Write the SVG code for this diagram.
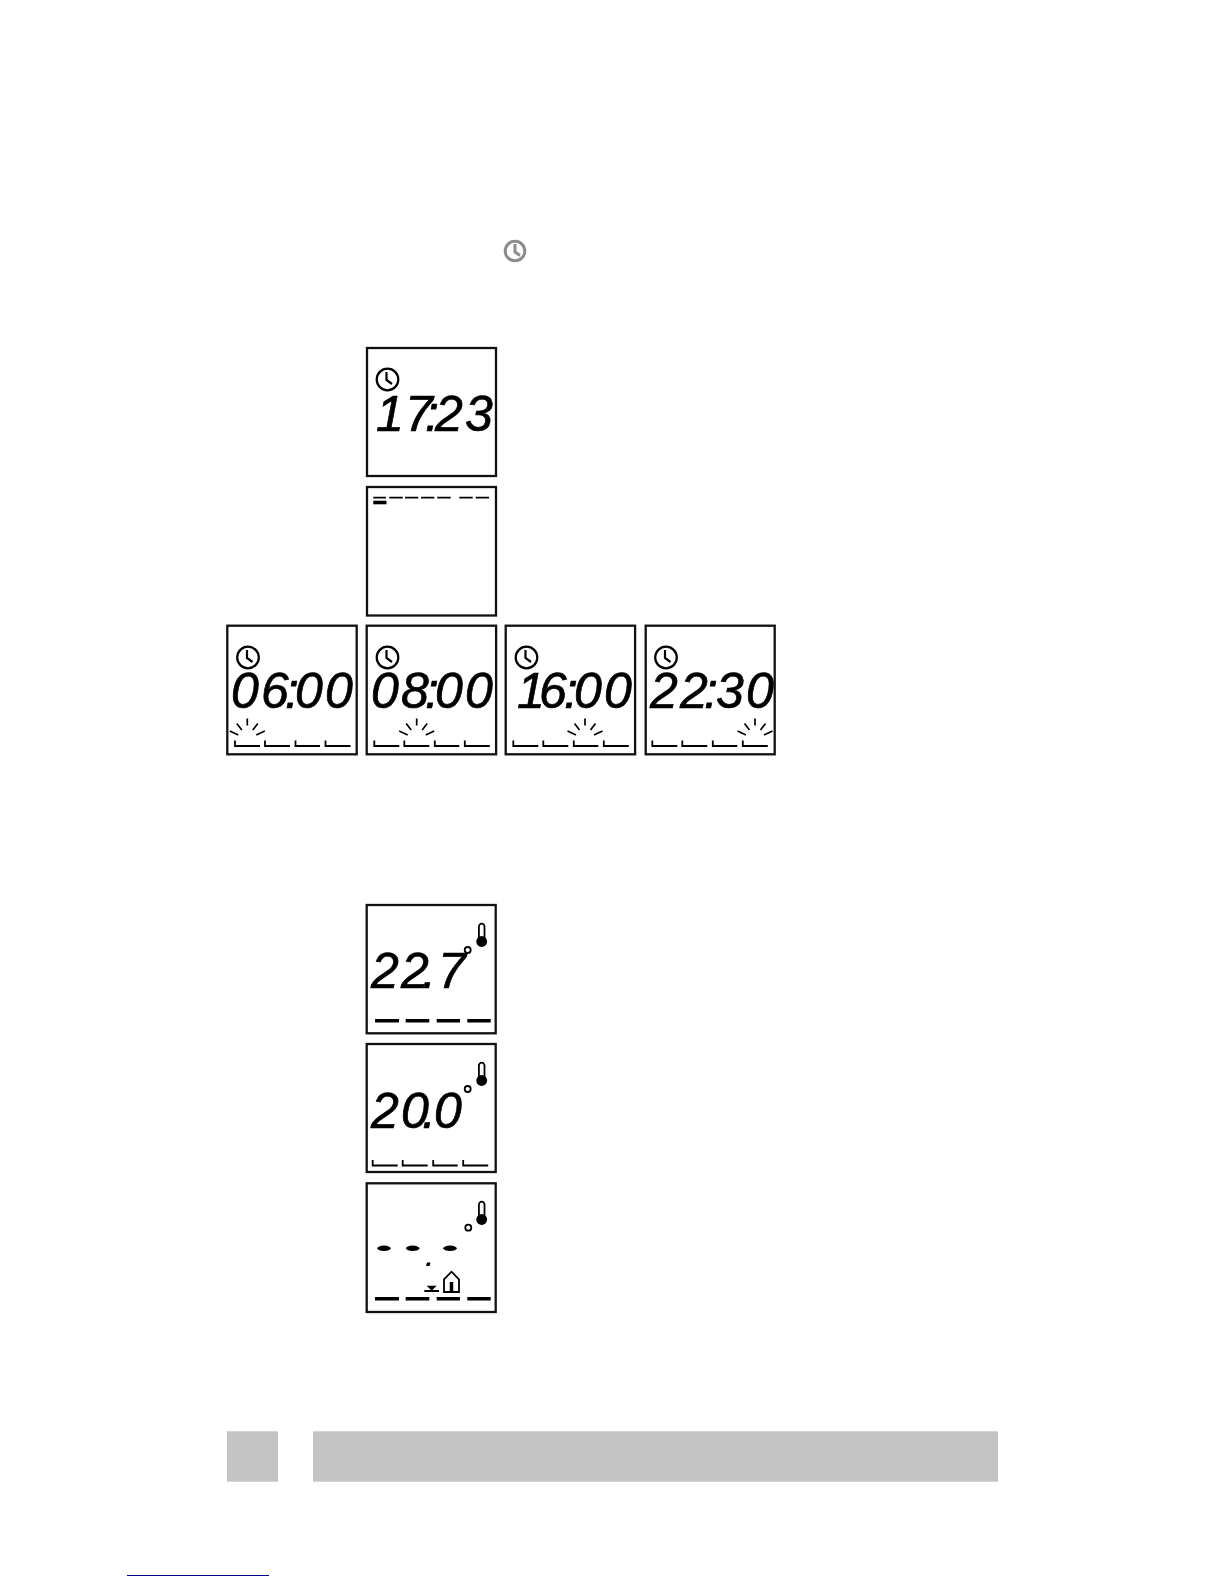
<svg xmlns="http://www.w3.org/2000/svg" width="1224" height="1584" viewBox="0 0 1224 1584">
<style>
.panel{fill:#fff;stroke:#111;stroke-width:2.300}
.lcd{font-family:"Liberation Sans","Arimo",sans-serif;font-size:50px;font-style:italic;text-anchor:middle;fill:#000;stroke:#000;stroke-width:0.700}
.ln{fill:none;stroke:#000;stroke-width:1.800}
.ray{fill:none;stroke:#000;stroke-width:1.700}
.bar{fill:none;stroke:#000;stroke-width:3.600}
.clk{fill:none;stroke:#000;stroke-width:2.200}
.deg{fill:#fff;stroke:#000;stroke-width:1.800}
</style>
<defs>
<g id="clock"><circle r="10.800" class="clk"/><path d="M-1 -7.500V0.500L4.500 4.500" class="clk"/></g>
<g id="ticks"><path class="ln" d="M0 -5V0.500H25M30 -5V0.500H55M60.500 -5V0.500H85M90.500 -5V0.500H115.500"/></g>
<g id="rays"><path class="ray" d="M0 -27V-20M-10.500 -22L-5.500 -15.500M10.500 -22L5.500 -15.500M-17.500 -14.500L-9 -10.500M17.500 -14.500L9 -10.500"/></g>
<g id="bars"><path class="bar" d="M0 0H24M30.700 0H54.300M61.700 0H85M92.300 0H115.700"/></g>
<g id="thermo"><path d="M-2.800 14V1.500a2.800 2.800 0 0 1 5.600 0V14" fill="#fff" stroke="#000" stroke-width="1.800"/><circle cy="16.500" r="5.400" fill="#000"/></g>
</defs>
<rect width="1224" height="1584" fill="#fff"/>

<g id="grey-clock" fill="none" stroke="#8c8c8c" stroke-width="3"><circle cx="515" cy="251" r="9.800"/><path d="M515 244V252L520 255.500"/></g>

<g id="display-1"><rect class="panel" x="367" y="348" width="129" height="128"/><use href="#clock" x="387.500" y="379.500"/><text class="lcd" x="390 419 432 449 479" y="431">17:23</text></g>

<g id="display-2"><rect class="panel" x="367" y="487" width="129" height="128.500"/><path d="M373.300 497.700H386M389.300 497.700H402.700M405 497.700H418.300M421 497.700H434.300M437.300 497.700H450.700M459.300 497.700H472.700M475.700 497.700H489" class="ln"/><path d="M373.300 502.500H386.500" class="bar"/></g>

<g id="display-3"><rect class="panel" x="227.300" y="625.700" width="129.400" height="128.600"/><use href="#clock" x="248" y="657.500"/><text class="lcd" x="245 275 292 309 339" y="708">06:00</text><use href="#ticks" x="235" y="745.500"/><use href="#rays" x="247.300" y="745.500"/></g>

<g id="display-4"><rect class="panel" x="366.700" y="625.700" width="129.400" height="128.600"/><use href="#clock" x="387.500" y="657.500"/><text class="lcd" x="385 415 432 449 479" y="708">08:00</text><use href="#ticks" x="374.300" y="745.500"/><use href="#rays" x="416.700" y="745.500"/></g>

<g id="display-5"><rect class="panel" x="505.700" y="625.700" width="129.400" height="128.600"/><use href="#clock" x="526.500" y="657.500"/><text class="lcd" x="531 553 571 588 618" y="708">16:00</text><use href="#ticks" x="513.300" y="745.500"/><use href="#rays" x="585" y="745.500"/></g>

<g id="display-6"><rect class="panel" x="645.700" y="625.700" width="129" height="128.600"/><use href="#clock" x="666" y="657.500"/><text class="lcd" x="664 694 711 730 760" y="708">22:30</text><use href="#ticks" x="652.300" y="745.500"/><use href="#rays" x="755" y="745.500"/></g>

<g id="display-7"><rect class="panel" x="366.700" y="905" width="129" height="128.300"/><text class="lcd" x="385 415 429 452" y="988">22.7</text><circle class="deg" cx="467.700" cy="950" r="3"/><use href="#thermo" x="481.700" y="925"/><use href="#bars" x="375" y="1020.700"/></g>

<g id="display-8"><rect class="panel" x="366.700" y="1044" width="129" height="128"/><text class="lcd" x="385 415 429 448" y="1128">20.0</text><circle class="deg" cx="467.700" cy="1089" r="3"/><use href="#thermo" x="481.700" y="1064"/><use href="#ticks" x="372.700" y="1165"/></g>

<g id="display-9"><rect class="panel" x="366.700" y="1183.300" width="129" height="128.700"/><circle class="deg" cx="468.300" cy="1227.700" r="3"/><use href="#thermo" x="481.700" y="1203"/><ellipse cx="384" cy="1248.300" rx="6.700" ry="2.700"/><ellipse cx="412.700" cy="1248.300" rx="6.700" ry="2.700"/><ellipse cx="450" cy="1248.300" rx="6.700" ry="2.700"/><path d="M427 1262.500h3.500l-1 3.500h-3.500z"/><use href="#bars" x="375" y="1298.700"/><path d="M426.700 1285.700H436.700L431.700 1290.700Z"/><path class="ln" d="M424.300 1291H439M444 1292V1279.300L451.500 1271.700L459 1279.300V1292Z"/><path d="M451.500 1282V1292" stroke="#000" stroke-width="3.500"/></g>

<g id="footer"><rect x="227" y="1431.300" width="51" height="50.400" fill="#c4c4c4"/><rect x="313" y="1431.300" width="685" height="50.400" fill="#c4c4c4"/><rect x="127" y="1575" width="142" height="1" fill="#00008b"/></g>
</svg>
